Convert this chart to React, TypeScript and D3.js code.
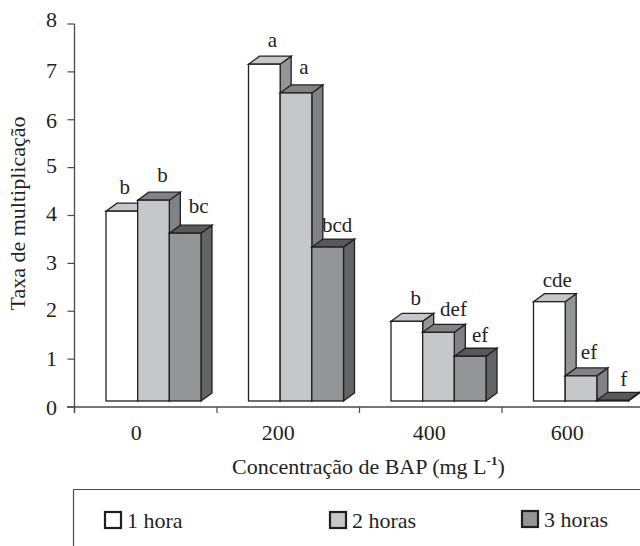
import React from "react";
import * as d3 from "d3";

const categories = ["0", "200", "400", "600"];
const seriesNames = ["1 hora", "2 horas", "3 horas"];
const hora1 = [4.09, 7.16, 1.79, 2.2];
const hora2 = [4.32, 6.56, 1.56, 0.65];
const hora3 = [3.63, 3.34, 1.06, 0.14];
const letters1 = ["b", "a", "b", "cde"];
const letters2 = ["b", "a", "def", "ef"];
const letters3 = ["bc", "bcd", "ef", "f"];
const yTicks = [0, 1, 2, 3, 4, 5, 6, 7, 8];

const series = [hora1, hora2, hora3];
const letters = [letters1, letters2, letters3];
const fronts = ["#ffffff", "#c6c7c9", "#939598"];
const tops = ["#c6c7c9", "#808285", "#58595b"];
const sides = ["#939598", "#808285", "#636466"];
// label nudges from bar centre / bar top [series][group]
const nudgeX = [[3, 8, 9, 8], [9, 8, 15, 8], [13.5, 9.5, 10, 11]];
const nudgeY = [[17, 17, 16, 15], [18, 19, 16, 17], [20, 15, 14, 14]];
const catNudge = [-9.5, -10, -1.5, -6];
const yLabelNudge = [8, 7, 6, 7, 5, 5, 8, 6, 3];
const legendX = [105, 330, 522];
const legendY = [512, 512, 511];

const INK = "#231f20";
const FONT = "'Liberation Serif', serif";
const DEPTH_X = 11;
const DEPTH_Y = 8;

export default function App() {
  const y = d3.scaleLinear().domain([0, 8]).range([407, 24]);
  const gx = d3.scaleBand<string>().domain(categories).range([74.5, 644.5]);
  const bx = d3.scaleBand<string>().domain(seriesNames).range([31.5, 126.5]);
  const w = bx.bandwidth();
  const base = 401;
  const boundaries = d3.range(0, 4).map((i) => 74.5 + i * gx.step());

  return (
    <svg
      width={640}
      height={546}
      viewBox="0 0 640 546"
      style={{ position: "absolute", left: 0, top: 0, background: "#fff" }}
      fontFamily={FONT}
      fill={INK}
    >
      {categories.map((c, g) =>
        seriesNames.map((s, k) => {
          const v = series[k][g];
          const x0 = gx(c)! + bx(s)!;
          const x1 = x0 + w;
          const t = y(v);
          const top = d3.path();
          top.moveTo(x0, t);
          top.lineTo(x0 + DEPTH_X, t - DEPTH_Y);
          top.lineTo(x1 + DEPTH_X, t - DEPTH_Y);
          top.lineTo(x1, t);
          top.closePath();
          const side = d3.path();
          side.moveTo(x1, t);
          side.lineTo(x1 + DEPTH_X, t - DEPTH_Y);
          side.lineTo(x1 + DEPTH_X, base - DEPTH_Y);
          side.lineTo(x1, base);
          side.closePath();
          return (
            <g key={c + s} stroke={INK} strokeWidth={1.3} strokeLinejoin="miter">
              <path d={side.toString()} fill={sides[k]} />
              <path d={top.toString()} fill={tops[k]} />
              <rect x={x0} y={t} width={w} height={Math.max(base - t, 0)} fill={fronts[k]} />
            </g>
          );
        })
      )}

      <g stroke="#4a4a4c" fill="none">
        <line x1={74.5} x2={74.5} y1={24} y2={413} strokeWidth={1.3} />
        <line x1={67} x2={640} y1={y(0)} y2={y(0)} strokeWidth={1.6} />
        {yTicks.map((t) => (
          <line key={t} x1={67.5} x2={74.5} y1={y(t)} y2={y(t)} strokeWidth={1.2} />
        ))}
        {boundaries.map((b) => (
          <line key={b} x1={b} x2={b} y1={y(0)} y2={413} strokeWidth={1.2} />
        ))}
      </g>

      <g fontSize={22} textAnchor="end">
        {yTicks.map((t, i) => (
          <text key={t} x={57} y={y(t) + yLabelNudge[i]}>{t}</text>
        ))}
      </g>
      <g fontSize={22} textAnchor="middle">
        {categories.map((c, g) => (
          <text key={c} x={gx(c)! + gx.bandwidth() / 2 + catNudge[g]} y={440}>{c}</text>
        ))}
      </g>

      <g fontSize={21} textAnchor="middle">
        {categories.map((c, g) =>
          seriesNames.map((s, k) => (
            <text
              key={c + s}
              x={gx(c)! + bx(s)! + w / 2 + nudgeX[k][g]}
              y={y(series[k][g]) - nudgeY[k][g]}
            >
              {letters[k][g]}
            </text>
          ))
        )}
      </g>

      <text
        transform="translate(25,213.5) rotate(-90)"
        textAnchor="middle"
        fontSize={22}
      >
        Taxa de multiplicação
      </text>
      <text x={232} y={474} fontSize={22}>
        Concentração de BAP (mg L
        <tspan dy={-9} fontSize={13} fontWeight="bold">-1</tspan>
        <tspan dy={9}>)</tspan>
      </text>

      <g stroke="#4a4a4c" fill="none" strokeWidth={1.2}>
        <line x1={73.5} x2={640} y1={489.5} y2={489.5} />
        <line x1={73.5} x2={73.5} y1={489.5} y2={546} />
      </g>
      {seriesNames.map((s, k) => (
        <g key={s}>
          <rect
            x={legendX[k]}
            y={legendY[k]}
            width={16}
            height={16}
            fill={fronts[k]}
            stroke={INK}
            strokeWidth={2.2}
          />
          <text x={legendX[k] + 22} y={legendY[k] + 16} fontSize={22}>{s}</text>
        </g>
      ))}
    </svg>
  );
}
